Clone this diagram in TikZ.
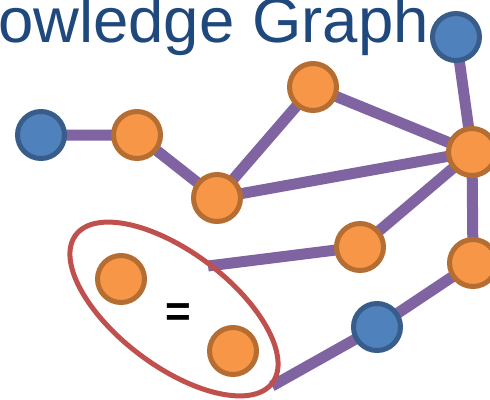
\documentclass[tikz,border=0pt]{standalone}
\usepackage{fontspec}
\setmainfont{Liberation Sans}
\definecolor{kgorange}{HTML}{F79646}
\definecolor{kgorangeb}{HTML}{B66D31}
\definecolor{kgblue}{HTML}{4F81BD}
\definecolor{kgblueb}{HTML}{385D8A}
\definecolor{kgpurple}{HTML}{8064A2}
\definecolor{kgred}{HTML}{C0504D}
\definecolor{kgtitle}{HTML}{1F497D}
\tikzset{
  onode/.style={circle, fill=kgorange, draw=kgorangeb, line width=5pt, minimum size=47pt, inner sep=0pt},
  bnode/.style={circle, fill=kgblue, draw=kgblueb, line width=5pt, minimum size=47pt, inner sep=0pt},
  link/.style={draw=kgpurple, line width=11pt},
  group/.style={draw=kgred, line width=5pt},
}
\begin{document}
\begin{tikzpicture}[x=1pt, y=-1pt]
\useasboundingbox (0,0) rectangle (490,399);
\begin{scope}
\clip (0,0) rectangle (490,399);
\node[anchor=base east, inner sep=0pt, text=kgtitle, font=\fontsize{63.5}{63.5}\selectfont] (title) at (429,42) {owledge Graph};
\coordinate (B1) at (41,135);
\coordinate (O1) at (137,135);
\coordinate (O2) at (217,198);
\coordinate (O3) at (313,87);
\coordinate (B2) at (456,37);
\coordinate (O4) at (472,152);
\coordinate (O5) at (360,247);
\coordinate (O6) at (473,263);
\coordinate (B3) at (377,327);
\coordinate (O7) at (121,279);
\coordinate (O8) at (233,351);
\coordinate (e1) at (208,266);
\coordinate (e2) at (272,386);
\coordinate (ec) at (174,309);
\path[link] (B1) -- (O1) (O1) -- (O2) (O2) -- (O3) (O2) -- (O4) (O3) -- (O4)
  (B2) -- (O4) (O4) -- (O5) (O4) -- (O6) (O5) -- (e1) (O6) -- (B3) (B3) -- (e2);
\begin{scope}[shift={(ec)}, rotate=-37]
\draw[group] (0,0) ellipse (123pt and 57pt);
\end{scope}
\node[bnode] (nB1) at (B1) {};
\node[onode] (nO1) at (O1) {};
\node[onode] (nO2) at (O2) {};
\node[onode] (nO3) at (O3) {};
\node[bnode] (nB2) at (B2) {};
\node[onode] (nO4) at (O4) {};
\node[onode] (nO5) at (O5) {};
\node[onode] (nO6) at (O6) {};
\node[bnode] (nB3) at (B3) {};
\node[onode] (nO7) at (O7) {};
\node[onode] (nO8) at (O8) {};
\node[font=\fontsize{44}{44}\selectfont\bfseries, inner sep=0pt] (eq) at (178,315) {=};
\end{scope}
\end{tikzpicture}
\end{document}
